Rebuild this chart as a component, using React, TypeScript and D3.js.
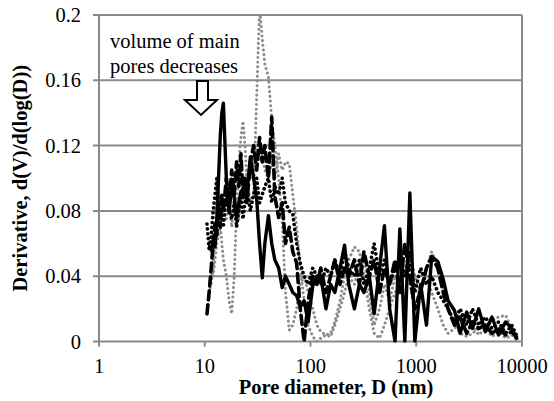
import React from "react";
import * as d3 from "d3";

const diameters = [10.5, 11, 11.5, 12, 12.5, 13, 13.5, 14, 14.5, 15, 16, 17, 18, 19, 20, 21, 22, 23, 24, 25, 27, 29, 31, 33, 35, 37, 40, 43, 46, 50, 54, 58, 63, 68, 74, 80, 87, 95, 105, 115, 125, 140, 155, 170, 190, 210, 230, 260, 290, 320, 360, 400, 450, 500, 560, 630, 700, 780, 870, 970, 1100, 1250, 1400, 1600, 1800, 2000, 2300, 2600, 3000, 3400, 3900, 4500, 5200, 6000, 7000, 8000, 9000];

const seriesSolid = [null, null, 0.055, 0.062, 0.058, 0.075, 0.1, 0.125, 0.14, 0.146, 0.1, 0.079, 0.097, 0.088, 0.076, 0.085, 0.092, 0.088, 0.099, 0.09, 0.113, 0.1, 0.087, 0.06, 0.039, 0.06, 0.077, 0.06, 0.05, 0.045, 0.033, 0.04, 0.035, 0.03, 0.028, 0.021, 0.025, 0.012, 0.034, 0.04, 0.04, 0.02, 0.035, 0.03, 0.045, 0.059, 0.035, 0.02, 0.035, 0.03, 0.04, 0.017, 0.045, 0.071, 0.02, 0.0, 0.069, 0.0, 0.091, 0.0, 0.035, 0.01, 0.052, 0.049, 0.038, 0.025, 0.019, 0.005, 0.018, 0.008, 0.02, 0.006, 0.015, 0.004, 0.012, 0.008, 0.001];

const seriesDashed = [0.017, 0.03, 0.045, 0.06, 0.072, 0.065, 0.085, 0.07, 0.09, 0.08, 0.1, 0.085, 0.105, 0.09, 0.11, 0.095, 0.115, 0.09, 0.1, 0.085, 0.11, 0.12, 0.105, 0.125, 0.11, 0.12, 0.1, 0.1375, 0.089, 0.076, 0.085, 0.06, 0.07, 0.055, 0.048, 0.02, 0.0, 0.025, 0.04, 0.035, 0.045, 0.03, 0.04, 0.05, 0.035, 0.045, 0.04, 0.05, 0.035, 0.055, 0.04, 0.05, 0.03, 0.045, 0.035, 0.05, 0.03, 0.06, 0.04, 0.02, 0.031, 0.045, 0.052, 0.045, 0.03, 0.02, 0.01, 0.015, 0.005, 0.012, 0.008, 0.01, 0.005, 0.008, 0.004, 0.006, 0.002];

const seriesDotted = [0.072, 0.056, 0.065, 0.08, 0.09, 0.1, 0.085, 0.075, 0.08, 0.07, 0.09, 0.08, 0.075, 0.085, 0.07, 0.08, 0.09, 0.075, 0.085, 0.095, 0.08, 0.09, 0.1, 0.085, 0.09, 0.095, 0.1, 0.085, 0.095, 0.09, 0.1, 0.085, 0.08, 0.078, 0.06, 0.048, 0.04, 0.035, 0.045, 0.04, 0.035, 0.045, 0.04, 0.05, 0.04, 0.055, 0.045, 0.04, 0.05, 0.035, 0.045, 0.06, 0.04, 0.05, 0.035, 0.045, 0.05, 0.04, 0.055, 0.03, 0.045, 0.035, 0.04, 0.03, 0.025, 0.02, 0.012, 0.02, 0.01, 0.02, 0.01, 0.015, 0.008, 0.012, 0.005, 0.01, 0.003];

const seriesGreyA = [null, 0.03, 0.035, 0.045, 0.07, 0.1, 0.09, 0.075, 0.06, 0.05, 0.04, 0.025, 0.017, 0.04, 0.08, 0.11, 0.125, 0.135, 0.12, 0.1, 0.085, 0.09, 0.15, 0.205, 0.185, 0.17, 0.162, 0.136, 0.12, 0.1, 0.073, 0.03, 0.007, 0.01, 0.02, 0.035, 0.04, 0.03, 0.02, 0.01, 0.006, 0.004, 0.005, 0.012, 0.025, 0.04, 0.05, 0.058, 0.055, 0.04, 0.02, 0.005, 0.002, 0.01, 0.02, 0.03, 0.035, 0.045, 0.055, 0.04, 0.03, 0.045, 0.055, 0.045, 0.03, 0.02, 0.01, 0.005, 0.003, 0.005, 0.008, 0.01, 0.013, 0.015, 0.016, 0.008, 0.002];

const seriesGreyB = [null, null, null, 0.04, 0.05, 0.06, 0.065, 0.07, 0.075, 0.08, 0.075, 0.085, 0.07, 0.09, 0.085, 0.075, 0.09, 0.1, 0.095, 0.105, 0.1, 0.11, 0.12, 0.11, 0.115, 0.105, 0.1, 0.11, 0.1, 0.115, 0.105, 0.11, 0.109, 0.09, 0.07, 0.045, 0.025, 0.01, 0.003, 0.0, 0.002, 0.004, 0.003, 0.01, 0.02, 0.03, 0.04, 0.035, 0.045, 0.05, 0.03, 0.01, 0.02, 0.035, 0.025, 0.04, 0.03, 0.045, 0.035, 0.02, 0.035, 0.04, 0.03, 0.02, 0.01, 0.005, 0.008, 0.012, 0.006, 0.01, 0.004, 0.008, 0.003, 0.006, 0.002, 0.004, 0.001];

const xTicks = [1, 10, 100, 1000, 10000];
const yTicks = [0, 0.04, 0.08, 0.12, 0.16, 0.2];
const yTickLabels = ["0", "0.04", "0.08", "0.12", "0.16", "0.2"];
const annotationLines = ["volume of main", "pores decreases"];

export default function App() {
  const W = 554, H = 401;
  const left = 99, right = 522, top = 15, bottom = 341.5;
  const x = d3.scaleLog().domain([1, 10000]).range([left, right]);
  const y = d3.scaleLinear().domain([0, 0.2]).range([bottom, top]);
  const line = d3
    .line<number | null>()
    .defined((d) => d != null)
    .x((_, i) => x(diameters[i]))
    .y((d) => y(d as number));

  const txt: React.CSSProperties = { fontFamily: '"Liberation Serif", "DejaVu Serif", serif', fontSize: "20.5px" };
  const bold: React.CSSProperties = { ...txt, fontWeight: 700 };
  const grid = "#8a8a8a";

  const series = [
    { data: seriesGreyA, stroke: "#8c8c8c", width: 3, dash: "0.1 4.6", cap: "round" },
    { data: seriesGreyB, stroke: "#8c8c8c", width: 3, dash: "0.1 4.6", cap: "round" },
    { data: seriesDotted, stroke: "#000", width: 3.6, dash: "0.1 4.8", cap: "round" },
    { data: seriesDashed, stroke: "#000", width: 3.6, dash: "9 5", cap: "round" },
    { data: seriesSolid, stroke: "#000", width: 3.4, dash: undefined, cap: "butt" },
  ];

  return (
    <div style={{ position: "fixed", left: 0, top: 0 }}>
      <svg width={W} height={H} style={{ display: "block", background: "#fff" }}>
        <defs>
          <clipPath id="plotclip">
            <rect x={left} y={top - 1} width={right - left} height={bottom - top + 2} />
          </clipPath>
        </defs>
        {yTicks.map((t, i) => (
          <g key={"y" + i}>
            <line x1={left - 6} x2={right} y1={y(t)} y2={y(t)} stroke={grid} strokeWidth={2} />
            <text x={81} y={y(t)} dy="0.35em" textAnchor="end" style={txt}>
              {yTickLabels[i]}
            </text>
          </g>
        ))}
        <line x1={left} x2={left} y1={top} y2={bottom + 5} stroke={grid} strokeWidth={2} />
        <line x1={right} x2={right} y1={top} y2={bottom} stroke={grid} strokeWidth={2} />
        {xTicks.map((t, i) => (
          <g key={"x" + i}>
            <line x1={x(t)} x2={x(t)} y1={bottom} y2={bottom + 5} stroke={grid} strokeWidth={2} />
            <text x={x(t)} y={373} textAnchor="middle" style={txt}>
              {String(t)}
            </text>
          </g>
        ))}
        <g clipPath="url(#plotclip)">
          {series.map((s, i) => (
            <path
              key={"s" + i}
              d={line(s.data) || ""}
              fill="none"
              stroke={s.stroke}
              strokeWidth={s.width}
              strokeDasharray={s.dash}
              strokeLinecap={s.cap as any}
              strokeLinejoin="round"
            />
          ))}
        </g>
        {annotationLines.map((l, i) => (
          <text key={"a" + i} x={110} y={48 + i * 25} style={txt}>
            {l}
          </text>
        ))}
        <polygon
          points="197,81 208,81 208,100 217,100 201,115 185,100 197,100"
          fill="#fff"
          stroke="#000"
          strokeWidth={2}
        />
        <text x={336} y={394} textAnchor="middle" style={bold}>
          Pore diameter, D (nm)
        </text>
        <text
          transform={`translate(27,${(top + bottom) / 2}) rotate(-90)`}
          textAnchor="middle"
          style={bold}
        >
          Derivative, d(V)/d(log(D))
        </text>
      </svg>
    </div>
  );
}
